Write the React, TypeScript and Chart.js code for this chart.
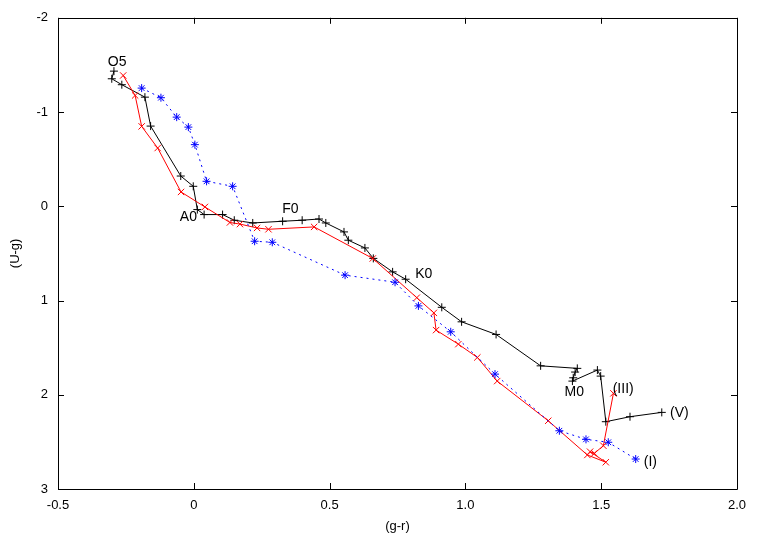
import React, { useEffect, useRef } from "react";
import { Chart, registerables } from "chart.js";

Chart.register(...registerables);

// Axis ranges / ticks
const xMin = -0.5;
const xMax = 2;
const xStep = 0.5;
const yMin = -2;
const yMax = 3;
const yStep = 1;

// Luminosity class V (black, +)
const vX = [-0.294, -0.302, -0.265, -0.18, -0.159, -0.048, -0.002, 0.013, 0.038, 0.106, 0.149, 0.217, 0.327, 0.399, 0.461, 0.486, 0.553, 0.569, 0.63, 0.661, 0.732, 0.78, 0.913, 0.986, 1.113, 1.277, 1.412, 1.404, 1.397, 1.394, 1.486, 1.498, 1.517, 1.606, 1.723];
const vY = [-1.434, -1.353, -1.29, -1.158, -0.851, -0.321, -0.212, 0.035, 0.088, 0.088, 0.148, 0.177, 0.159, 0.148, 0.135, 0.177, 0.272, 0.36, 0.442, 0.553, 0.696, 0.774, 1.072, 1.226, 1.36, 1.693, 1.72, 1.759, 1.82, 1.855, 1.738, 1.802, 2.286, 2.233, 2.187];

// Luminosity class III (red, x)
const iiiX = [-0.26, -0.216, -0.192, -0.133, -0.047, 0.041, 0.133, 0.17, 0.233, 0.275, 0.443, 0.659, 0.821, 0.884, 0.892, 0.974, 1.044, 1.117, 1.305, 1.449, 1.517, 1.459, 1.475, 1.508, 1.545];
const iiiY = [-1.388, -1.176, -0.848, -0.618, -0.152, 0.007, 0.172, 0.189, 0.23, 0.244, 0.219, 0.554, 0.97, 1.131, 1.314, 1.463, 1.604, 1.855, 2.276, 2.639, 2.716, 2.604, 2.621, 2.541, 1.985];

// Luminosity class I (blue, *)
const iX = [-0.192, -0.121, -0.063, -0.02, 0.004, 0.047, 0.143, 0.224, 0.289, 0.557, 0.741, 0.827, 0.946, 1.109, 1.346, 1.444, 1.526, 1.627];
const iY = [-1.254, -1.152, -0.946, -0.84, -0.654, -0.265, -0.212, 0.371, 0.382, 0.731, 0.806, 1.057, 1.332, 1.781, 2.382, 2.473, 2.504, 2.682];

// Text labels (data coordinates)
const labelTexts = ["O5", "A0", "F0", "K0", "M0", "(III)", "(V)", "(I)"];
const labelX = [-0.282, -0.02, 0.356, 0.847, 1.401, 1.581, 1.788, 1.681];
const labelY = [-1.526, 0.113, 0.032, 0.721, 1.975, 1.943, 2.197, 2.717];

const FONT = "'Liberation Sans', Arial, Helvetica, sans-serif";

const toPts = (xs: number[], ys: number[]) => xs.map((x, i) => ({ x, y: ys[i] }));

const framePlugin = {
  id: "frameTicks",
  afterDatasetsDraw(chart: any) {
    const { ctx, chartArea, scales } = chart;
    const { left, right, top, bottom } = chartArea;
    ctx.save();
    ctx.strokeStyle = "#000";
    ctx.lineWidth = 1;
    ctx.beginPath();
    ctx.rect(Math.round(left) + 0.5, Math.round(top) + 0.5, Math.round(right - left), Math.round(bottom - top));
    ctx.stroke();
    const len = 6;
    ctx.beginPath();
    scales.x.ticks.forEach((t: any) => {
      const px = Math.round(scales.x.getPixelForValue(t.value)) + 0.5;
      ctx.moveTo(px, bottom);
      ctx.lineTo(px, bottom - len);
      ctx.moveTo(px, top);
      ctx.lineTo(px, top + len);
    });
    scales.y.ticks.forEach((t: any) => {
      const py = Math.round(scales.y.getPixelForValue(t.value)) + 0.5;
      ctx.moveTo(left, py);
      ctx.lineTo(left + len, py);
      ctx.moveTo(right, py);
      ctx.lineTo(right - len, py);
    });
    ctx.stroke();
    ctx.restore();
  },
  afterDraw(chart: any) {
    const { ctx, scales } = chart;
    ctx.save();
    ctx.fillStyle = "#000";
    ctx.font = `14px ${FONT}`;
    ctx.textAlign = "center";
    ctx.textBaseline = "middle";
    labelTexts.forEach((txt, i) => {
      ctx.fillText(txt, scales.x.getPixelForValue(labelX[i]), scales.y.getPixelForValue(labelY[i]));
    });
    ctx.restore();
  },
};

export default function App() {
  const ref = useRef<HTMLCanvasElement | null>(null);
  useEffect(() => {
    if (!ref.current) return;
    const chart = new Chart(ref.current, {
      type: "scatter",
      data: {
        datasets: [
          {
            label: "(V)",
            data: toPts(vX, vY),
            showLine: true,
            borderColor: "#000000",
            backgroundColor: "#000000",
            borderWidth: 1,
            pointStyle: "cross",
            pointRadius: 4,
            pointBorderWidth: 1,
            pointBorderColor: "#000000",
            order: 3,
          },
          {
            label: "(III)",
            data: toPts(iiiX, iiiY),
            showLine: true,
            borderColor: "#ff0000",
            backgroundColor: "#ff0000",
            borderWidth: 1,
            pointStyle: "crossRot",
            pointRadius: 4.5,
            pointBorderWidth: 1,
            pointBorderColor: "#ff0000",
            order: 2,
          },
          {
            label: "(I)",
            data: toPts(iX, iY),
            showLine: true,
            borderColor: "#0000ff",
            backgroundColor: "#0000ff",
            borderWidth: 1,
            borderDash: [2, 4],
            pointStyle: "star",
            pointRadius: 4,
            pointBorderWidth: 1,
            pointBorderColor: "#0000ff",
            order: 1,
          },
        ],
      },
      options: {
        animation: false,
        responsive: false,
        devicePixelRatio: 1,
        layout: { padding: { top: 17, right: 26, left: 0, bottom: 0 } },
        plugins: {
          legend: { display: false },
          tooltip: { enabled: false },
        },
        scales: {
          x: {
            type: "linear",
            min: xMin,
            max: xMax,
            ticks: {
              stepSize: xStep,
              color: "#000",
              font: { family: FONT, size: 13 },
              padding: 9,
              maxRotation: 0,
              autoSkip: false,
            },
            grid: { display: false, drawTicks: false },
            border: { display: false },
            title: {
              display: true,
              text: "(g-r)",
              color: "#000",
              font: { family: FONT, size: 13 },
              padding: { top: 0, bottom: 0 },
            },
            afterFit: (s: any) => {
              s.height = 45;
            },
          },
          y: {
            type: "linear",
            min: yMin,
            max: yMax,
            reverse: true,
            ticks: {
              stepSize: yStep,
              color: "#000",
              font: { family: FONT, size: 13 },
              padding: 10,
              autoSkip: false,
            },
            grid: { display: false, drawTicks: false },
            border: { display: false },
            title: {
              display: true,
              text: "(U-g)",
              color: "#000",
              font: { family: FONT, size: 13 },
              padding: { top: 8, bottom: 0 },
            },
            afterFit: (s: any) => {
              s.width = 58;
            },
          },
        },
      },
      plugins: [framePlugin],
    });
    return () => chart.destroy();
  }, []);
  return (
    <div style={{ position: "absolute", left: 0, top: 0, width: 763, height: 534, background: "#fff" }}>
      <canvas ref={ref} width={763} height={534} style={{ display: "block" }} />
    </div>
  );
}
